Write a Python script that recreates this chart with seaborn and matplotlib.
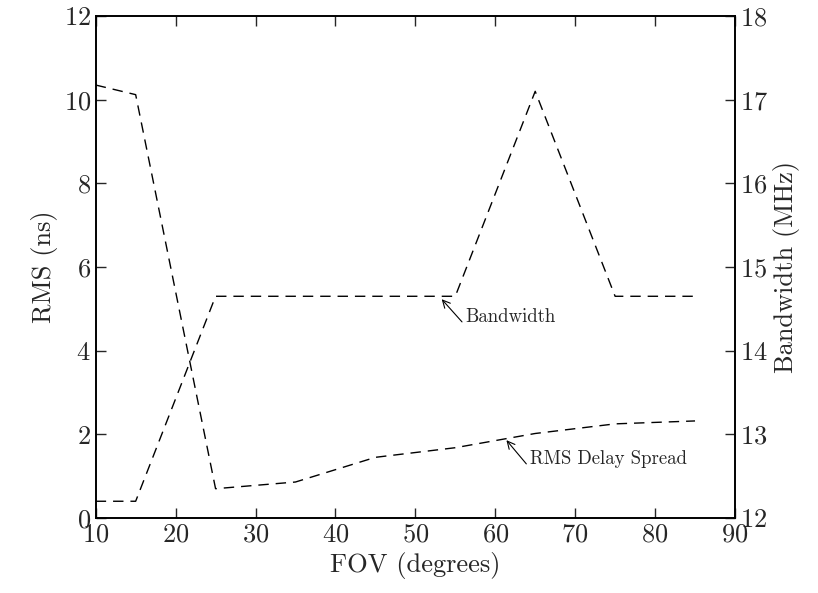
import pandas as pd
import numpy as np
import matplotlib
matplotlib.use('Agg')
import matplotlib.pyplot as plt
import seaborn as sns

fov = [10, 15, 25, 35, 45, 55, 65, 75, 85]
rms_ns = [10.35, 10.12, 0.70, 0.86, 1.45, 1.68, 2.02, 2.25, 2.32]
bandwidth_mhz = [12.2, 12.2, 14.65, 14.65, 14.65, 14.65, 17.1, 14.65, 14.65]

df = pd.DataFrame({'FOV': fov, 'RMS': rms_ns, 'Bandwidth': bandwidth_mhz})

sns.set_style('ticks')
plt.rcParams['font.family'] = 'serif'
plt.rcParams['font.serif'] = ['cmr10', 'DejaVu Serif']
plt.rcParams['mathtext.fontset'] = 'cm'
plt.rcParams['axes.formatter.use_mathtext'] = True
plt.rcParams['axes.unicode_minus'] = False

fig = plt.figure(figsize=(8.18, 5.93), dpi=100)
ax = fig.add_axes([0.117, 0.1265, 0.7815, 0.8465])
ax2 = ax.twinx()

sns.lineplot(data=df, x='FOV', y='RMS', ax=ax, color='black', lw=1)
sns.lineplot(data=df, x='FOV', y='Bandwidth', ax=ax2, color='black', lw=1)
# longer dashes like the original
ax.lines[0].set_dashes([7.5, 5])
ax2.lines[0].set_dashes([7.5, 5])

ax.set_xlim(10, 90)
ax.set_ylim(0, 12)
ax2.set_ylim(12, 18)
ax.set_xticks(range(10, 91, 10))
ax.set_yticks(range(0, 13, 2))
ax2.set_yticks(range(12, 19, 1))

fs = 19
ax.set_xlabel('FOV (degrees)', fontsize=fs)
ax.set_ylabel('RMS (ns)', fontsize=fs)
ax2.set_ylabel('Bandwidth (MHz)', fontsize=fs)
ax.tick_params(axis='both', direction='in', length=7, width=1, labelsize=fs, top=True)
ax.tick_params(axis='y', right=False)
ax2.tick_params(axis='y', direction='in', length=7, width=1, labelsize=fs)
for a in (ax, ax2):
    for s in a.spines.values():
        s.set_linewidth(1.2)
        s.set_color('black')

arrow = dict(arrowstyle='->', lw=0.8, color='black', shrinkA=0, shrinkB=0, relpos=(0, 0))
ax.annotate('Bandwidth', xy=(53.3, 5.23), xytext=(56.25, 4.6), fontsize=13.5,
            va='bottom', ha='left', arrowprops=arrow)
ax.annotate('RMS Delay Spread', xy=(61.4, 1.86), xytext=(64.3, 1.2), fontsize=13.5,
            va='bottom', ha='left', arrowprops=arrow)

fig.savefig('out.png', dpi=100)
